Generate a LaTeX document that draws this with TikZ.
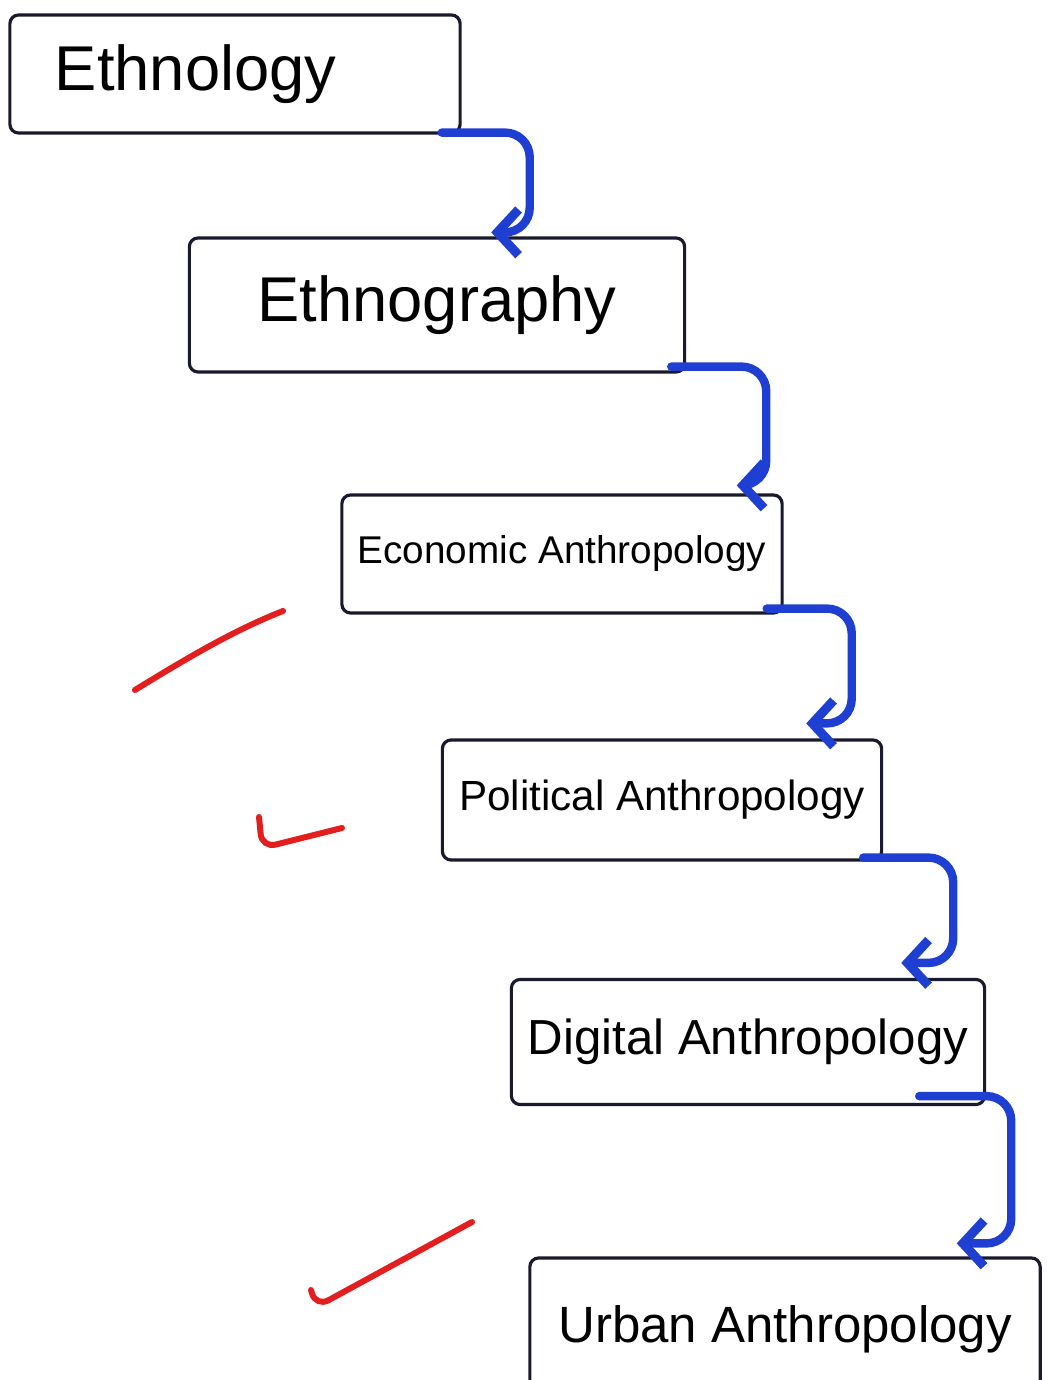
\documentclass[tikz,border=0pt]{standalone}
\usepackage{fontspec}
\setmainfont{Liberation Sans}
\usepackage{tikz}
\usetikzlibrary{arrows.meta,positioning}
\definecolor{penblue}{HTML}{1F3FD2}
\definecolor{penred}{HTML}{E31E1E}
\definecolor{inkdark}{HTML}{1A1A2E}

\begin{document}
\begin{tikzpicture}[x=0.01cm, y=-0.01cm,
    stage/.style={draw=inkdark, line width=0.9pt, rounded corners=2.5pt, inner sep=0pt},
    flow/.style={draw=penblue, line width=2.4pt, rounded corners=7pt, line cap=round,
                 -{Straight Barb[length=6pt, width=13pt, line width=2.6pt]}},
    tick/.style={draw=penred, line width=1.7pt, rounded corners=4pt, line cap=round}]
    \useasboundingbox (0,0) rectangle (1046,1380);
    \clip (0,0) rectangle (1046,1380);

    % Stages of the staircase
    \node[stage, minimum width=4.5cm, minimum height=1.18cm, text width=3.6cm, align=left, font=\fontsize{18}{20}\selectfont] (E1) at (235,74) {Ethnology};
    \node[stage, minimum width=4.95cm, minimum height=1.34cm, font=\fontsize{18}{20}\selectfont] (E2) at (437,305) {Ethnography};
    \node[stage, minimum width=4.4cm, minimum height=1.18cm, font=\fontsize{11}{13}\selectfont] (E3) at (562,554) {Economic Anthropology};
    \node[stage, minimum width=4.39cm, minimum height=1.2cm, font=\fontsize{12}{14}\selectfont] (E4) at (662,800) {Political Anthropology};
    \node[stage, minimum width=4.73cm, minimum height=1.25cm, font=\fontsize{14}{16}\selectfont] (E5) at (748,1042) {Digital Anthropology};
    \node[stage, minimum width=5.1cm, minimum height=1.42cm, font=\fontsize{14.5}{16}\selectfont] (E6) at (785,1329) {Urban Anthropology};

    % Blue connectors
    \draw[flow] ([shift={(-20,-2)}]E1.south east) -- ++(88,0) |- ([shift={(-195,-4)}]E2.north east);
    \draw[flow] ([shift={(-15,-7)}]E2.south east) -- ++(95,0) |- ([shift={(-47,-8)}]E3.north east);
    \draw[flow] ([shift={(-17,-6)}]E3.south east) -- ++(85,0) |- ([shift={(-77,-15)}]E4.north east);
    \draw[flow] ([shift={(-20,-4)}]E4.south east) -- ++(90,0) |- ([shift={(-85,-15)}]E5.north east);
    \draw[flow] ([shift={(-67,-10)}]E5.south east) -- ++(92,0) |- ([shift={(-85,-13)}]E6.north east);

    % Red ticks
    \draw[tick] (135,690) .. controls (200,650) and (240,628) .. (283,611);
    \draw[tick] (259,817) -- (262,848) -- (342,828);
    \draw[tick] (311,1290) -- (316,1307) -- (472,1222);
\end{tikzpicture}
\end{document}
